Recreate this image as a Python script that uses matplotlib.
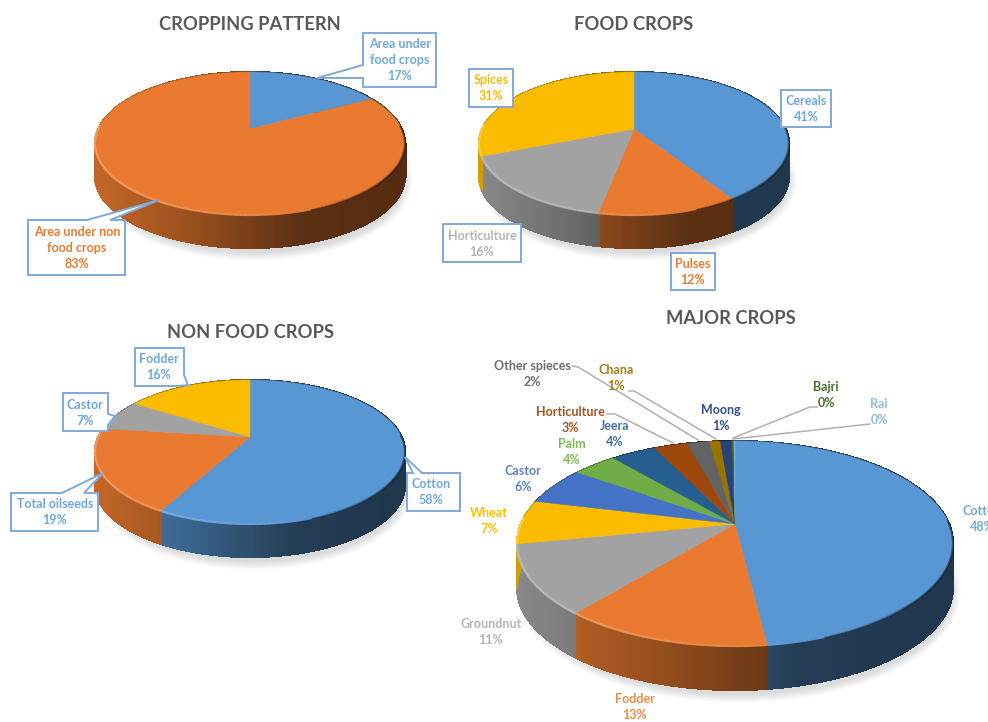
import numpy as np
import matplotlib
matplotlib.use("Agg")
import matplotlib.pyplot as plt
from matplotlib.collections import LineCollection, PolyCollection
from matplotlib.colors import to_rgb
from matplotlib.patches import Ellipse
from matplotlib.transforms import Transform

plt.rcParams["font.family"] = ["Lato", "DejaVu Sans"]

BLUE = "#5897D3"
ORANGE = "#E97A2F"
GREY = "#A2A2A2"
YELLOW = "#FBBC00"

# data
pattern_labels = ["Area under\nfood crops\n17%", "Area under non\nfood crops\n83%"]
pattern_values = [17, 83]
pattern_colors = [BLUE, ORANGE]

food_labels = ["Cereals\n41%", "Pulses\n12%", "Horticulture\n16%", "Spices\n31%"]
food_values = [41, 12, 16, 31]
food_colors = [BLUE, ORANGE, GREY, YELLOW]

nonfood_labels = ["Cotton\n58%", "Total oilseeds\n19%", "Castor\n7%", "Fodder\n16%"]
nonfood_values = [58, 19, 7, 16]
nonfood_colors = [BLUE, ORANGE, GREY, YELLOW]

major_labels = ["Cotton", "Fodder", "Groundnut", "Wheat", "Castor", "Palm", "Jeera",
                "Horticulture", "Other spieces", "Chana", "Moong", "Bajri", "Rai"]
major_pct = [48, 13, 11, 7, 6, 4, 4, 3, 2, 1, 1, 0, 0]
major_values = [48.4, 13, 11, 7, 6, 4, 4, 3, 2, 1, 1, 0.2, 0.1]
major_colors = [BLUE, ORANGE, GREY, YELLOW, "#4472C4", "#70AD47", "#255E91", "#9E480E",
                "#636363", "#997300", "#264478", "#43682B", "#7CAFDD"]
major_text_xy = [(982, 511), (635, 699), (491, 624), (489, 513), (523, 471), (572, 444),
                 (615, 426), (570, 412), (532, 366), (616, 370), (721, 410), (826, 387),
                 (879, 404)]
major_text_colors = ["#6FA8DC", "#F08A45", "#B5B5B5", "#FFC000", "#5B83CC", "#7FB858", "#3C72A3",
                     "#A9521A", "#6E6E6E", "#A37F14", "#2F5190", "#4A7030", "#8DBBE3"]


class TiltTransform(Transform):
    # unit circle -> tilted disc in image pixels, with perspective
    input_dims = 2
    output_dims = 2

    def __init__(self, xc, half_w, ytop, yapex, ybot):
        super().__init__()
        up = yapex - ytop
        down = ybot - yapex
        self.p = (down - up) / (down + up)
        self.k = up * (1 + self.p)
        self.a = half_w * np.sqrt(1 - self.p ** 2)
        self.xc = xc
        self.yapex = yapex

    def transform_non_affine(self, values):
        x, y = np.asarray(values).T
        w = 1 + self.p * y
        return np.column_stack((self.xc + self.a * x / w, self.yapex - self.k * y / w))


def mix(color, other, amount):
    c = np.array(to_rgb(color))
    return tuple(c * (1 - amount) + np.array(other) * amount)


def draw_pie(ax, values, colors, xc, half_w, ytop, yapex, ybot, depth):
    tilt = TiltTransform(xc, half_w, ytop, yapex, ybot)

    # soft shadow under the disc
    for grow in range(6):
        ax.add_patch(Ellipse((xc + 4, (ytop + ybot) / 2 + depth + 5),
                             2 * half_w - 8 + grow * 3, ybot - ytop + grow * 3,
                             fc="#000000", ec="none", alpha=0.025, zorder=1))

    edges = np.cumsum([0] + list(values)) / sum(values) * 360
    quads, quad_colors, rim, rim_colors = [], [], [], []
    for start, end, color in zip(edges[:-1], edges[1:], colors):
        angles = np.radians(np.arange(start, end + 1, 1.0))
        angles = np.append(angles[angles < np.radians(end)], np.radians(end))
        pts = tilt.transform_non_affine(np.column_stack((np.sin(angles), np.cos(angles))))
        for i in range(len(pts) - 1):
            a, b = pts[i], pts[i + 1]
            t = ((a[0] + b[0]) / 2 - (xc - half_w)) / (2 * half_w)
            shade = np.interp(t, [0, 0.3, 0.65, 1], [0.84, 0.66, 0.40, 0.36])
            quads.append([a, b, b + (0, depth), a + (0, depth)])
            quad_colors.append(tuple(np.array(to_rgb(color)) * shade))
            if np.cos(angles[i]) < 0.05:
                rim.append([a, b])
                light = np.interp(t, [0, 0.55, 0.68], [0.28, 0.08, 0])
                dark = np.interp(t, [0.7, 0.95], [0, 0.45])
                rim_colors.append(mix(color, (1, 1, 1), light) + (1,) if dark == 0
                                  else (0, 0, 0, dark))

    ax.add_collection(PolyCollection(quads, facecolors=quad_colors, edgecolors=quad_colors,
                                     linewidths=0.8, antialiaseds=False, zorder=2))
    wedges, _ = ax.pie(values, colors=colors, startangle=90, counterclock=False,
                       wedgeprops={"linewidth": 0.3, "zorder": 3})
    for wedge, color in zip(wedges, colors):
        wedge.set_edgecolor(color)
        wedge.set_transform(tilt + ax.transData)
    ax.add_collection(LineCollection(rim, colors=rim_colors, linewidths=1.6, zorder=4))


def callout(ax, outline, text, center, color="#6FA8DC"):
    xs, ys = zip(*outline)
    ax.fill(xs, ys, fc="white", ec="#7FA9DA", lw=1.4, zorder=6, joinstyle="miter")
    ax.text(center[0], center[1], text, color=color, ha="center", va="center",
            fontsize=LABEL_SIZE, fontweight="bold", linespacing=1.4, zorder=7)


def box(x0, y0, x1, y1):
    return [(x0, y0), (x1, y0), (x1, y1), (x0, y1), (x0, y0)]


LABEL_SIZE = 9.0
TITLE_SIZE = 13.2

fig = plt.figure(figsize=(9.88, 7.22), dpi=100)
ax = fig.add_axes([0, 0, 1, 1])

draw_pie(ax, pattern_values, pattern_colors, 250, 155, 72, 129, 215, 33)
draw_pie(ax, food_values, food_colors, 634, 155, 72, 129, 215, 33)
draw_pie(ax, nonfood_values, nonfood_colors, 250, 155, 380, 437, 524, 33)
draw_pie(ax, major_values, major_colors, 735, 218, 441, 524, 646, 44)

for title, x, y in [("CROPPING PATTERN", 250, 24), ("FOOD CROPS", 634, 24),
                    ("NON FOOD CROPS", 250, 332), ("MAJOR CROPS", 731, 318)]:
    ax.text(x, y, title, color="#595959", ha="center", va="center",
            fontsize=TITLE_SIZE, fontweight="bold", zorder=7)

# cropping pattern callouts
callout(ax, [(363, 33), (436, 33), (436, 87), (363, 87), (363, 78), (317, 78), (363, 65), (363, 33)],
        pattern_labels[0], (400, 60))
callout(ax, [(28, 220), (87, 220), (159, 200), (110, 220), (125, 220), (125, 275), (28, 275), (28, 220)],
        pattern_labels[1], (77, 248), ORANGE)

# food crops callouts
callout(ax, box(781, 90, 831, 127), food_labels[0], (806, 109))
callout(ax, box(671, 253, 715, 290), food_labels[1], (693, 272), ORANGE)
callout(ax, box(443, 224, 521, 262), food_labels[2], (482, 244), "#B5B5B5")
callout(ax, box(469, 69, 513, 107), food_labels[3], (491, 88), YELLOW)

# non food crops callouts
callout(ax, [(422, 473), (460, 473), (460, 511), (407, 511), (407, 473), (413, 473), (405, 457), (422, 473)],
        nonfood_labels[0], (431, 492))
callout(ax, [(11, 493), (62, 493), (103, 473), (84, 493), (98, 493), (98, 531), (11, 531), (11, 493)],
        nonfood_labels[1], (55, 512))
callout(ax, [(63, 393), (108, 393), (108, 414), (115, 416), (108, 425), (108, 431), (63, 431), (63, 393)],
        nonfood_labels[2], (85, 413))
callout(ax, [(135, 348), (184, 348), (184, 375), (188, 385), (178, 386), (135, 386), (135, 348)],
        nonfood_labels[3], (159, 367))

# major crops labels and leader lines
for name, pct, (x, y), color in zip(major_labels, major_pct, major_text_xy, major_text_colors):
    ax.text(x, y + 8, f"{name}\n{pct}%", color=color, ha="center", va="center",
            fontsize=LABEL_SIZE, fontweight="bold", linespacing=1.4, zorder=7)

leaders = [[(572, 366), (578, 367), (698, 440)],
           [(629, 391), (634, 391), (716, 439)],
           [(607, 414), (615, 414), (673, 443)],
           [(817, 407), (810, 407), (733, 438)],
           [(870, 424), (733, 439)]]
for line in leaders:
    xs, ys = zip(*line)
    ax.plot(xs, ys, color="#B0B0B0", lw=1.1, zorder=5)

ax.set_aspect("auto")
ax.set_xlim(0, 988)
ax.set_ylim(722, 0)
ax.axis("off")

fig.savefig("out.png", dpi=100)
plt.close(fig)
